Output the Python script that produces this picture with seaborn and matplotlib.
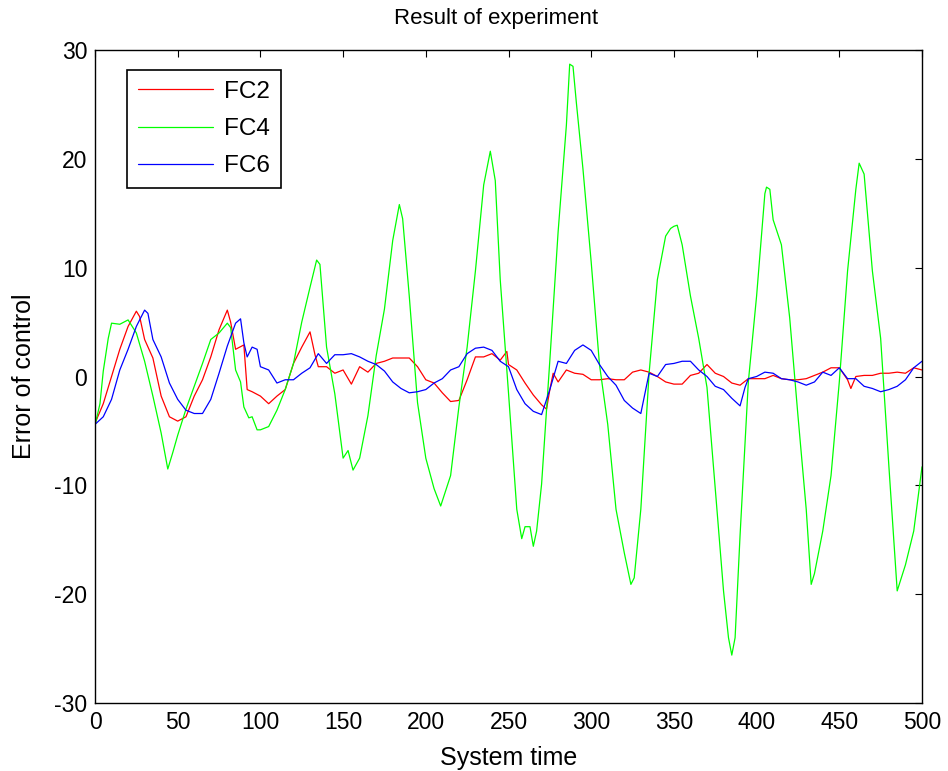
import numpy as np
import pandas as pd
import matplotlib
matplotlib.use("Agg")
import matplotlib.pyplot as plt
import seaborn as sns

# ---- data ----
fc2_t = [0, 5, 10, 15, 20, 25, 27, 30, 35, 40, 45, 50, 55, 60, 65, 70, 75, 80, 82, 85, 90, 92, 95,
         100, 105, 110, 115, 120, 125, 130, 133, 135, 140, 145, 150, 155, 160, 165, 170, 175, 180,
         185, 190, 195, 200, 205, 210, 215, 220, 225, 230, 235, 240, 245, 249, 250, 255, 260, 265,
         270, 273, 275, 277, 280, 285, 290, 295, 300, 305, 310, 315, 320, 325, 330, 335, 340, 345,
         350, 355, 360, 365, 370, 375, 380, 385, 390, 395, 400, 405, 410, 415, 420, 425, 430, 435,
         440, 445, 450, 455, 457, 460, 465, 470, 475, 480, 485, 490, 495, 500]
fc2_v = [-4.3, -2.5, 0.0, 2.5, 4.6, 6.0, 5.5, 3.4, 1.7, -1.8, -3.7, -4.1, -3.7, -1.8, -0.3, 1.8, 4.3,
         6.1, 5.0, 2.5, 2.9, -1.2, -1.4, -1.8, -2.5, -1.8, -1.2, 1.2, 2.7, 4.1, 2.0, 0.9, 0.9, 0.3,
         0.6, -0.7, 0.9, 0.4, 1.2, 1.4, 1.7, 1.7, 1.7, 0.9, -0.3, -0.6, -1.5, -2.3, -2.2, -0.3, 1.8,
         1.8, 2.1, 1.5, 2.3, 1.1, 0.6, -0.6, -1.7, -2.6, -3.0, -1.2, 0.3, -0.5, 0.6, 0.3, 0.2, -0.3,
         -0.3, -0.2, -0.3, -0.3, 0.4, 0.6, 0.4, 0.0, -0.5, -0.7, -0.7, 0.1, 0.3, 1.1, 0.3, 0.0, -0.6,
         -0.8, -0.2, -0.2, -0.2, 0.1, -0.2, -0.3, -0.3, -0.2, 0.1, 0.4, 0.8, 0.8, -0.3, -1.1, 0.0,
         0.1, 0.1, 0.3, 0.3, 0.4, 0.3, 0.8, 0.6]

fc4_t = [0, 3, 5, 8, 10, 15, 20, 25, 30, 35, 40, 44, 47, 50, 55, 60, 65, 70, 75, 80, 82, 85, 88, 90,
         93, 95, 98, 100, 105, 110, 115, 120, 125, 130, 134, 136, 140, 145, 150, 153, 156, 160, 165,
         170, 175, 180, 184, 186, 190, 195, 200, 205, 209, 215, 220, 225, 230, 235, 239, 242, 245,
         250, 255, 258, 260, 263, 265, 267, 270, 275, 280, 285, 287, 289, 291, 295, 300, 305, 310,
         315, 320, 324, 326, 330, 335, 340, 345, 348, 350, 352, 355, 360, 365, 370, 375, 380, 383,
         385, 387, 390, 395, 400, 405, 406, 408, 410, 415, 420, 425, 430, 433, 435, 440, 445, 450,
         455, 460, 462, 465, 470, 475, 480, 485, 490, 495, 500]
fc4_v = [-4.5, -2.5, 0.5, 3.5, 4.9, 4.8, 5.2, 4.0, 1.4, -1.8, -5.2, -8.5, -7.0, -5.4, -3.0, -0.9,
         1.2, 3.4, 4.0, 4.9, 4.5, 0.6, -0.5, -2.8, -3.8, -3.7, -4.9, -4.9, -4.6, -3.1, -1.2, 1.2,
         5.0, 8.2, 10.7, 10.3, 2.7, -1.6, -7.5, -6.8, -8.6, -7.5, -3.6, 1.9, 6.2, 12.5, 15.8, 14.5,
         7.4, -2.4, -7.5, -10.3, -11.9, -9.1, -2.8, 2.7, 9.7, 17.6, 20.7, 18.0, 8.9, -1.5, -12.2,
         -14.9, -13.8, -13.8, -15.6, -14.2, -9.9, 1.5, 13.3, 23.1, 28.7, 28.5, 25.2, 19.1, 10.5,
         1.1, -4.4, -12.2, -16.2, -19.1, -18.5, -12.2, 0.3, 8.9, 12.9, 13.6, 13.8, 13.9, 12.1, 7.4,
         3.5, -1.0, -10.3, -19.7, -24.0, -25.6, -24.0, -14.6, -0.5, 7.4, 16.8, 17.4, 17.2, 14.4,
         12.1, 5.4, -3.6, -12.2, -19.1, -18.1, -14.2, -9.1, -0.5, 9.7, 17.2, 19.6, 18.6, 9.7, 3.5,
         -8.3, -19.7, -17.3, -14.2, -8.3]

fc6_t = [0, 5, 10, 15, 20, 25, 30, 32, 35, 40, 45, 50, 55, 60, 65, 70, 75, 80, 85, 88, 90, 92, 95,
         98, 100, 105, 110, 115, 120, 125, 130, 135, 140, 145, 150, 155, 160, 165, 170, 175, 180,
         185, 190, 195, 200, 205, 210, 215, 220, 225, 230, 235, 240, 245, 250, 255, 260, 265, 270,
         275, 280, 285, 290, 295, 300, 305, 310, 315, 320, 325, 330, 335, 340, 345, 350, 355, 360,
         365, 370, 375, 380, 385, 390, 393, 395, 400, 405, 410, 415, 420, 425, 430, 435, 440, 445,
         450, 455, 460, 465, 470, 475, 480, 485, 490, 495, 500]
fc6_v = [-4.4, -3.7, -2.1, 0.6, 2.5, 4.6, 6.1, 5.8, 3.4, 1.8, -0.6, -2.1, -3.1, -3.4, -3.4, -2.1,
         0.3, 2.8, 4.9, 5.3, 3.1, 1.8, 2.7, 2.5, 0.9, 0.6, -0.6, -0.3, -0.3, 0.3, 0.8, 2.1, 1.2,
         2.0, 2.0, 2.1, 1.8, 1.4, 1.1, 0.5, -0.5, -1.1, -1.5, -1.4, -1.2, -0.6, -0.2, 0.6, 0.9, 2.1,
         2.6, 2.7, 2.4, 1.4, 0.9, -1.2, -2.5, -3.2, -3.5, -1.2, 1.4, 1.2, 2.4, 2.9, 2.4, 1.1, 0.0,
         -0.8, -2.2, -2.9, -3.4, 0.3, 0.0, 1.1, 1.2, 1.4, 1.4, 0.6, 0.0, -0.9, -1.2, -2.0, -2.7,
         -1.0, -0.2, 0.0, 0.4, 0.3, -0.2, -0.3, -0.5, -0.8, -0.5, 0.4, 0.1, 0.8, -0.2, -0.2, -0.9,
         -1.1, -1.4, -1.2, -0.9, -0.3, 0.8, 1.4]

series_names = ["FC2", "FC4", "FC6"]
series_colors = {"FC2": "#ff0000", "FC4": "#00ff00", "FC6": "#0000ff"}
x_ticks = [0, 50, 100, 150, 200, 250, 300, 350, 400, 450, 500]
y_ticks = [-30, -20, -10, 0, 10, 20, 30]

frames = []
for name, tt, vv in [("FC2", fc2_t, fc2_v), ("FC4", fc4_t, fc4_v), ("FC6", fc6_t, fc6_v)]:
    frames.append(pd.DataFrame({"t": tt, "v": vv, "series": name}))
df = pd.concat(frames, ignore_index=True)

sns.set_theme(style="white")
plt.rcParams["font.family"] = ["Liberation Sans", "DejaVu Sans"]
plt.rcParams["axes.unicode_minus"] = False
plt.rcParams["text.color"] = "black"
plt.rcParams["axes.labelcolor"] = "black"
plt.rcParams["xtick.color"] = "black"
plt.rcParams["ytick.color"] = "black"

fig = plt.figure(figsize=(9.48, 7.71), dpi=100)
ax = fig.add_axes([95 / 948, 1 - 703 / 771, 827 / 948, 653 / 771])

sns.lineplot(data=df, x="t", y="v", hue="series", hue_order=series_names,
             palette=series_colors, estimator=None, sort=True, linewidth=0.9, ax=ax)

ax.set_xlim(0, 500)
ax.set_ylim(-30, 30)
ax.set_xticks(x_ticks)
ax.set_yticks(y_ticks)
ax.tick_params(direction="in", length=5, width=0.8, top=True, right=True,
               labelsize=16.5, colors="black", labelcolor="black", pad=5.5)
for s in ax.spines.values():
    s.set_visible(True)
    s.set_color("black")
    s.set_linewidth(1.0)

ax.set_xlabel("System time", fontsize=18, labelpad=9, color="black")
ax.set_ylabel("Error of control", fontsize=18, labelpad=13, color="black")
ax.set_title("Result of experiment", fontsize=16, pad=19, x=0.485, color="black")

leg = ax.legend(loc="upper left", bbox_to_anchor=(32 / 827, 1 - 20 / 653), borderaxespad=0,
                fontsize=17.5, handlelength=3.1, handletextpad=0.45, labelspacing=0.62,
                borderpad=0.45, fancybox=False, framealpha=1, title=None)
leg.get_frame().set_edgecolor("black")
leg.get_frame().set_linewidth(1.2)
for line in leg.get_lines():
    line.set_linewidth(0.9)
for txt in leg.get_texts():
    txt.set_color("black")

fig.savefig("out.png", dpi=100)
